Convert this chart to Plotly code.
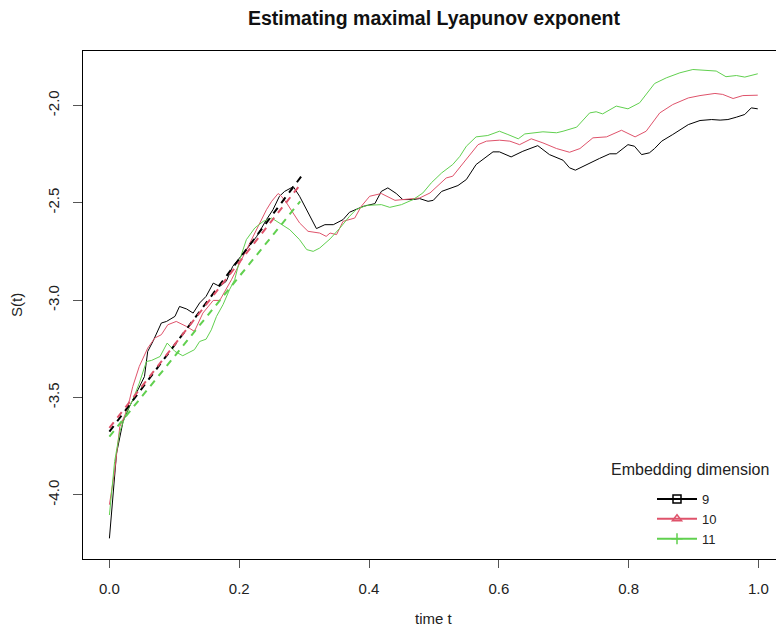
import plotly.graph_objects as go

# ---- data ----
t_m9 = [0.000, 0.006, 0.011, 0.021, 0.031, 0.044, 0.054, 0.059, 0.067, 0.080, 0.088, 0.101, 0.108, 0.119,
        0.129, 0.139, 0.149, 0.160, 0.170, 0.180, 0.190, 0.211, 0.227, 0.242, 0.252, 0.262, 0.270, 0.280,
        0.283, 0.293, 0.304, 0.319, 0.332, 0.345, 0.360, 0.370, 0.391, 0.409, 0.419, 0.429, 0.442, 0.452,
        0.468, 0.478, 0.491, 0.499, 0.512, 0.537, 0.550, 0.565, 0.591, 0.601, 0.619, 0.637, 0.660, 0.678,
        0.699, 0.709, 0.718, 0.735, 0.755, 0.771, 0.781, 0.799, 0.809, 0.820, 0.832, 0.840, 0.851, 0.868,
        0.892, 0.910, 0.928, 0.941, 0.953, 0.966, 0.979, 0.989, 0.999]
s_m9 = [-4.223, -3.990, -3.786, -3.623, -3.546, -3.460, -3.392, -3.263, -3.212, -3.117, -3.109, -3.083, -3.032,
        -3.045, -3.066, -3.014, -2.980, -2.912, -2.929, -2.903, -2.826, -2.740, -2.672, -2.586, -2.535, -2.466,
        -2.441, -2.423, -2.415, -2.466, -2.535, -2.632, -2.612, -2.612, -2.586, -2.548, -2.518, -2.504, -2.441,
        -2.423, -2.452, -2.483, -2.483, -2.478, -2.492, -2.487, -2.441, -2.411, -2.380, -2.303, -2.238, -2.238,
        -2.264, -2.235, -2.206, -2.252, -2.281, -2.320, -2.332, -2.303, -2.272, -2.248, -2.248, -2.201, -2.209,
        -2.252, -2.243, -2.221, -2.183, -2.149, -2.098, -2.077, -2.072, -2.075, -2.072, -2.060, -2.046, -2.012,
        -2.017]

t_m10 = [0.000, 0.008, 0.016, 0.024, 0.031, 0.036, 0.046, 0.059, 0.070, 0.080, 0.090, 0.103, 0.119, 0.131,
         0.144, 0.160, 0.170, 0.180, 0.188, 0.201, 0.216, 0.232, 0.242, 0.250, 0.260, 0.265, 0.273, 0.283,
         0.293, 0.306, 0.324, 0.334, 0.340, 0.350, 0.360, 0.378, 0.388, 0.401, 0.419, 0.440, 0.458, 0.478,
         0.494, 0.519, 0.529, 0.545, 0.568, 0.581, 0.601, 0.617, 0.632, 0.650, 0.668, 0.689, 0.709, 0.725,
         0.745, 0.766, 0.789, 0.810, 0.827, 0.848, 0.868, 0.892, 0.910, 0.933, 0.945, 0.961, 0.976, 0.999]
s_m10 = [-4.050, -3.880, -3.649, -3.589, -3.512, -3.443, -3.340, -3.246, -3.194, -3.177, -3.126, -3.109, -3.135,
         -3.160, -3.066, -3.001, -3.001, -2.946, -2.895, -2.809, -2.706, -2.603, -2.535, -2.492, -2.452, -2.466,
         -2.500, -2.552, -2.603, -2.646, -2.655, -2.672, -2.655, -2.663, -2.595, -2.578, -2.518, -2.466, -2.452,
         -2.487, -2.483, -2.475, -2.449, -2.372, -2.363, -2.295, -2.201, -2.183, -2.178, -2.183, -2.201, -2.171,
         -2.192, -2.221, -2.240, -2.221, -2.166, -2.161, -2.127, -2.161, -2.132, -2.038, -1.995, -1.961, -1.949,
         -1.938, -1.943, -1.964, -1.949, -1.947]

t_m11 = [0.000, 0.003, 0.008, 0.016, 0.026, 0.036, 0.046, 0.057, 0.065, 0.078, 0.089, 0.101, 0.113, 0.131,
         0.139, 0.149, 0.157, 0.165, 0.175, 0.185, 0.193, 0.201, 0.211, 0.224, 0.237, 0.250, 0.262, 0.278,
         0.293, 0.304, 0.314, 0.324, 0.340, 0.355, 0.370, 0.380, 0.396, 0.419, 0.432, 0.450, 0.468, 0.483,
         0.496, 0.512, 0.529, 0.540, 0.550, 0.565, 0.583, 0.601, 0.614, 0.630, 0.640, 0.668, 0.689, 0.699,
         0.720, 0.730, 0.740, 0.750, 0.760, 0.781, 0.799, 0.817, 0.840, 0.858, 0.879, 0.899, 0.915, 0.935,
         0.950, 0.966, 0.979, 0.999]
s_m11 = [-4.103, -3.991, -3.829, -3.675, -3.580, -3.512, -3.426, -3.315, -3.309, -3.289, -3.220, -3.263, -3.285,
         -3.254, -3.212, -3.200, -3.152, -3.083, -3.023, -2.946, -2.895, -2.790, -2.689, -2.629, -2.595, -2.578,
         -2.603, -2.638, -2.689, -2.740, -2.749, -2.732, -2.685, -2.630, -2.569, -2.535, -2.513, -2.509, -2.523,
         -2.509, -2.483, -2.449, -2.397, -2.346, -2.303, -2.261, -2.209, -2.161, -2.154, -2.132, -2.149, -2.171,
         -2.146, -2.135, -2.140, -2.132, -2.111, -2.075, -2.038, -2.032, -2.043, -2.003, -2.017, -1.986, -1.887,
         -1.858, -1.832, -1.815, -1.818, -1.823, -1.852, -1.846, -1.854, -1.837]

# regression (dashed) lines: start / end
fit_t_m9 = [0.0, 0.297]
fit_s_m9 = [-3.675, -2.358]
fit_t_m10 = [0.0, 0.294]
fit_s_m10 = [-3.655, -2.406]
fit_t_m11 = [0.0, 0.294]
fit_s_m11 = [-3.700, -2.492]

dims = ["9", "10", "11"]
colors = ["#000000", "#DF536B", "#61D04F"]
symbols = ["square-open", "triangle-up-open", "cross-thin-open"]
legend_title = "Embedding dimension"
x_ticks = [0.0, 0.2, 0.4, 0.6, 0.8, 1.0]
x_ticktext = ["0.0", "0.2", "0.4", "0.6", "0.8", "1.0"]
y_ticks = [-4.0, -3.5, -3.0, -2.5, -2.0]
y_ticktext = ["-4.0", "-3.5", "-3.0", "-2.5", "-2.0"]

series = [(t_m9, s_m9), (t_m10, s_m10), (t_m11, s_m11)]
fits = [(fit_t_m9, fit_s_m9), (fit_t_m10, fit_s_m10), (fit_t_m11, fit_s_m11)]

FONT = "Liberation Sans, Arial, sans-serif"
W, H = 776, 629
ML, MR, MT, MB = 83, 0, 51, 70
PW, PH = W - ML - MR, H - MT - MB


def px_to_paper(px, py):
    return (px - ML) / PW, (H - MB - py) / PH


fig = go.Figure()
for (tt, ss), col in zip(series, colors):
    fig.add_trace(go.Scatter(x=tt, y=ss, mode="lines", line=dict(color=col, width=1),
                             showlegend=False, hoverinfo="skip"))
for (tt, ss), col in zip(fits, colors):
    fig.add_trace(go.Scatter(x=tt, y=ss, mode="lines", line=dict(color=col, width=2, dash="7px,6px"),
                             showlegend=False, hoverinfo="skip"))
# legend entries
for d, col, sym in zip(dims, colors, symbols):
    fig.add_trace(go.Scatter(x=[None], y=[None], mode="lines+markers", name=d,
                             line=dict(color=col, width=2),
                             marker=dict(symbol=sym, size=8, color=col, line=dict(color=col, width=1.5))))

lx, ly = px_to_paper(652, 484)
tx, ty = px_to_paper(690, 469)
xtx, xty = px_to_paper(434, 618)
ytx, yty = px_to_paper(16, 305)

fig.update_layout(
    width=W, height=H,
    margin=dict(l=ML, r=MR, t=MT, b=MB, autoexpand=False),
    paper_bgcolor="white", plot_bgcolor="white",
    font=dict(family=FONT, size=15, color="#222222"),
    title=dict(text="<b>Estimating maximal Lyapunov exponent</b>", x=434 / W, xref="container",
               xanchor="center", y=1 - 18 / H, yref="container", yanchor="middle",
               font=dict(family=FONT, size=19.5, color="#111111")),
    showlegend=True,
    legend=dict(x=lx, y=ly, xanchor="left", yanchor="top",
                font=dict(size=13), bgcolor="rgba(0,0,0,0)", tracegroupgap=0, itemwidth=40,
                borderwidth=0),
    xaxis=dict(range=[-0.0407, 1.0271], tickvals=x_ticks, ticktext=x_ticktext,
               showgrid=False, zeroline=False, showline=True, linecolor="black", linewidth=1,
               mirror=True, ticks="outside", ticklen=8, tickcolor="#555555", tickwidth=1,
               ticklabelstandoff=8),
    yaxis=dict(range=[-4.329, -1.720], tickvals=y_ticks, ticktext=y_ticktext, tickangle=-90,
               showgrid=False, zeroline=False, showline=True, linecolor="black", linewidth=1,
               mirror=True, ticks="outside", ticklen=9, tickcolor="#555555", tickwidth=1,
               ticklabelstandoff=8),
    annotations=[
        dict(text="time t", x=xtx, y=xty, xref="paper", yref="paper", showarrow=False,
             xanchor="center", yanchor="middle", font=dict(size=15, color="#222222")),
        dict(text="S(t)", x=ytx, y=yty, xref="paper", yref="paper", showarrow=False,
             textangle=-90, xanchor="center", yanchor="middle", font=dict(size=15, color="#222222")),
        dict(text=legend_title, x=tx, y=ty, xref="paper", yref="paper", showarrow=False,
             xanchor="center", yanchor="middle", font=dict(size=16, color="#222222")),
    ],
)

fig.write_html("out.html", config={"displayModeBar": False},
               post_script="document.body.style.margin='0';")
